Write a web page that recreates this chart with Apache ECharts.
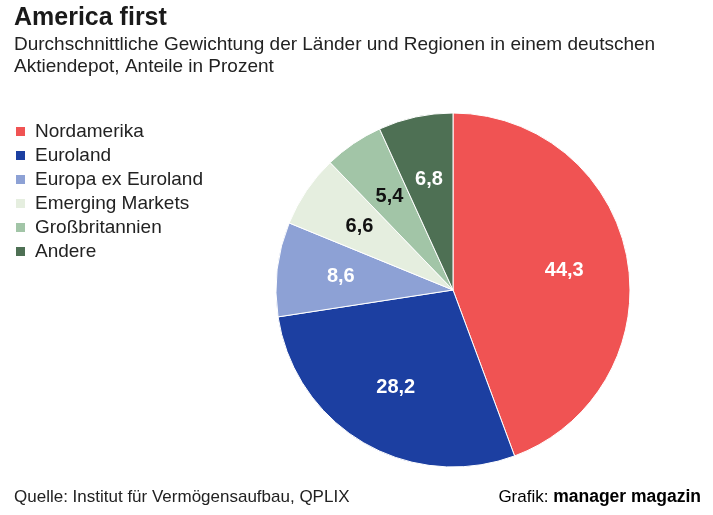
<!DOCTYPE html>
<html><head><meta charset="utf-8">
<script src="https://cdn.jsdelivr.net/npm/echarts@6/dist/echarts.min.js"></script>
<style>html,body{margin:0;padding:0;background:#fff}#c{width:713px;height:515px}</style>
</head><body><div id="c"></div>
<script>
const categories = ['Nordamerika','Euroland','Europa ex Euroland','Emerging Markets','Großbritannien','Andere'];
const values = [44.3, 28.2, 8.6, 6.6, 5.4, 6.8];
const valueLabels = ['44,3','28,2','8,6','6,6','5,4','6,8'];
const colors = ['#f05353','#1c3fa1','#8da1d5','#e5eedf','#a2c5a7','#4e7054'];
const labelColors = ['#fff','#fff','#fff','#111','#111','#fff'];

const FONT = '"Liberation Sans", Arial, sans-serif';
const chart = echarts.init(document.getElementById('c'));
chart.setOption({
  animation: false,
  color: colors,
  legend: {
    orient: 'vertical', left: 14, top: 122, padding: 0,
    data: categories,
    icon: 'rect', itemWidth: 11, itemHeight: 11, itemGap: 5,
    textStyle: {fontFamily: FONT, fontSize: 19, lineHeight: 19, color: '#222', padding: [0,0,0,4]},
    selectedMode: false
  },
  series: [{
    type: 'pie',
    center: [453, 290], radius: [0, 177],
    startAngle: 90, clockwise: true,
    silent: true,
    itemStyle: {borderColor: '#fff', borderWidth: 1},
    label: {show: false}, labelLine: {show: false},
    data: categories.map((n, i) => ({name: n, value: values[i]}))
  }, {
    type: 'pie',
    center: [453, 290], radius: [43, 177],
    startAngle: 90, clockwise: true,
    silent: true,
    itemStyle: {color: 'rgba(0,0,0,0)', borderWidth: 0},
    label: {show: true, position: 'inside', fontFamily: FONT, fontSize: 20, fontWeight: 'bold',
      formatter: p => valueLabels[p.dataIndex]},
    labelLine: {show: false},
    data: categories.map((n, i) => ({name: n, value: values[i], label: {color: labelColors[i]}}))
  }],
  graphic: [
    {type: 'text', style: {x: 14, y: 18, verticalAlign: 'middle', text: 'America first', font: 'bold 25px ' + FONT, fill: '#1a1a1a'}},
    {type: 'text', style: {x: 14, y: 45, verticalAlign: 'middle', text: 'Durchschnittliche Gewichtung der Länder und Regionen in einem deutschen', font: '19px ' + FONT, fill: '#222'}},
    {type: 'text', style: {x: 14, y: 67, verticalAlign: 'middle', text: 'Aktiendepot, Anteile in Prozent', font: '19px ' + FONT, fill: '#222'}},
    {type: 'text', style: {x: 14, y: 497, verticalAlign: 'middle', text: 'Quelle: Institut für Vermögensaufbau, QPLIX', font: '17px ' + FONT, fill: '#222'}},
    {type: 'text', style: {x: 701, y: 497, align: 'right', verticalAlign: 'middle',
      text: '{a|Grafik: }{b|manager magazin}',
      rich: {a: {fontFamily: FONT, fontSize: 17, color: '#222'}, b: {fontFamily: FONT, fontSize: 17.5, fontWeight: 'bold', color: '#111'}}
    }}
  ]
});
</script></body></html>
